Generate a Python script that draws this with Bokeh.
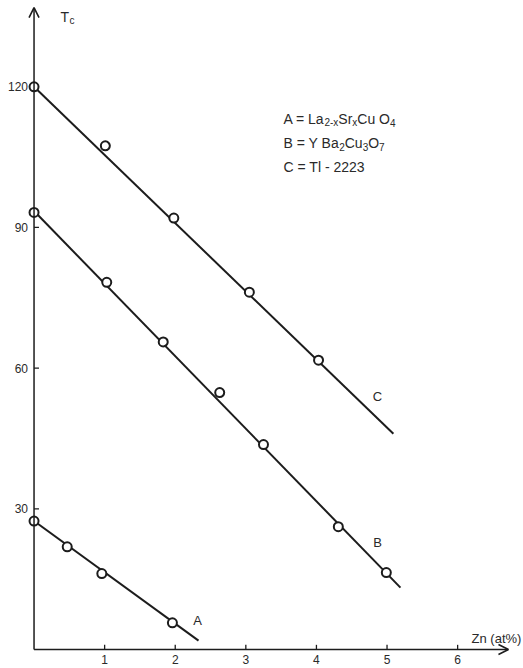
from bokeh.plotting import figure
from bokeh.models import Range1d, Arrow, OpenHead
from bokeh.core.properties import value
from bokeh.embed import file_html
from bokeh.resources import INLINE

# Measured Tc versus Zn substitution for three cuprate families
a_zn = [0, 0.47, 0.96, 1.96]
a_tc = [27.4, 21.9, 16.2, 5.7]
b_zn = [0, 1.03, 1.83, 2.63, 3.25, 4.31, 4.99]
b_tc = [93.2, 78.3, 65.6, 54.8, 43.7, 26.2, 16.4]
c_zn = [0, 1.01, 1.98, 3.05, 4.03]
c_tc = [120, 107.4, 92.0, 76.2, 61.7]

# straight trend lines drawn through each series
a_fit_zn = [0, 2.33]
a_fit_tc = [27.4, 1.9]
b_fit_zn = [0, 5.19]
b_fit_tc = [93.5, 13.2]
c_fit_zn = [0, 5.09]
c_fit_tc = [120, 46.0]

x_ticks = [1, 2, 3, 4, 5, 6]
y_ticks = [30, 60, 90, 120]

# key entries as (text, is_subscript) runs
key_a = [("A = La", False), ("2-x", True), ("Sr", False), ("x", True),
         ("Cu O", False), ("4", True)]
key_b = [("B = Y Ba", False), ("2", True), ("Cu", False), ("3", True),
         ("O", False), ("7", True)]
key_c = [("C = Tl - 2223", False)]

FONT = value("Liberation Sans")
INK = "#1c1c1c"
TXT = "#2a2a2a"

# Liberation Sans advance widths (per 1000 em) used to place subscript runs
ADV = {'A': 667, ' ': 278, '=': 584, 'L': 556, 'a': 556, '2': 556, '-': 333,
       'x': 500, 'S': 667, 'r': 333, 'C': 722, 'u': 556, 'O': 778, '4': 556,
       'B': 667, 'Y': 667, '3': 556, '7': 556, 'T': 611, 'l': 222, 'c': 500}


def run_width(s, size):
    return sum(ADV.get(ch, 556) for ch in s) * size / 1000.0


p = figure(width=523, height=668, output_backend="svg", toolbar_location=None,
           x_range=Range1d(-0.475, 6.933), y_range=Range1d(-4.05, 138.4),
           x_axis_location=None, y_axis_location=None, min_border=0)
p.grid.visible = False
p.outline_line_color = None
p.background_fill_color = "white"
p.border_fill_color = "white"

# hand-drawn style axes with open arrow heads
p.add_layout(Arrow(end=OpenHead(size=10, line_width=1.6, line_color=INK),
                   x_start=0, y_start=0, x_end=6.72, y_end=0,
                   line_width=1.5, line_color=INK))
p.add_layout(Arrow(end=OpenHead(size=10, line_width=1.6, line_color=INK),
                   x_start=0, y_start=0, x_end=0, y_end=136.9,
                   line_width=1.5, line_color=INK))

# tick marks
p.segment(x0=x_ticks, y0=[0] * len(x_ticks), x1=x_ticks, y1=[1.0] * len(x_ticks),
          line_color=INK, line_width=1.3)
p.segment(x0=[0] * 3, y0=y_ticks[:3], x1=[0.07] * 3, y1=y_ticks[:3],
          line_color=INK, line_width=1.3)

# tick labels
p.text(x=x_ticks, y=[0] * len(x_ticks), text=[str(t) for t in x_ticks],
       text_align="center", text_baseline="top", y_offset=5,
       text_font=FONT, text_font_size="12px", text_color=TXT)
p.text(x=[0] * len(y_ticks), y=y_ticks, text=[str(t) for t in y_ticks],
       text_align="right", text_baseline="middle", x_offset=-6,
       text_font=FONT, text_font_size="12px", text_color=TXT)

# axis titles
p.text(x=[6.197], y=[0], text=["Zn (at%)"], text_align="left",
       text_baseline="alphabetic", y_offset=-11,
       text_font=FONT, text_font_size="13px", text_color=TXT)
p.text(x=[0.375], y=[134.8], text=["T"], text_align="left", text_baseline="alphabetic",
       text_font=FONT, text_font_size="14px", text_color=TXT)
p.text(x=[0.375], y=[134.8], text=["c"], text_align="left", text_baseline="alphabetic",
       x_offset=9, y_offset=3,
       text_font=FONT, text_font_size="10px", text_color=TXT)

# trend lines and measured points
for fz, ft in ((a_fit_zn, a_fit_tc), (b_fit_zn, b_fit_tc), (c_fit_zn, c_fit_tc)):
    p.line(fz, ft, line_color=INK, line_width=2)
for zn, tc in ((a_zn, a_tc), (b_zn, b_tc), (c_zn, c_tc)):
    p.scatter(zn, tc, marker="circle", size=9, fill_color="white",
              line_color=INK, line_width=2)

# series letters
p.text(x=[2.316, 4.865, 4.865], y=[6.2, 22.8, 53.9], text=["A", "B", "C"],
       text_align="center", text_baseline="middle",
       text_font=FONT, text_font_size="13px", text_color=TXT)

# key, one run of text per normal/subscript piece
MAIN, SUB = 14, 10
for runs, ky in ((key_a, 113.2), (key_b, 108.0), (key_c, 102.8)):
    off = 0.0
    for s, is_sub in runs:
        size = SUB if is_sub else MAIN
        p.text(x=[3.534], y=[ky], text=[s], text_align="left",
               text_baseline="alphabetic", x_offset=off, y_offset=4 if is_sub else 0,
               text_font=FONT, text_font_size=f"{size}px", text_color=TXT)
        off += run_width(s, size)

open("out.html", "w").write(file_html(p, INLINE))
